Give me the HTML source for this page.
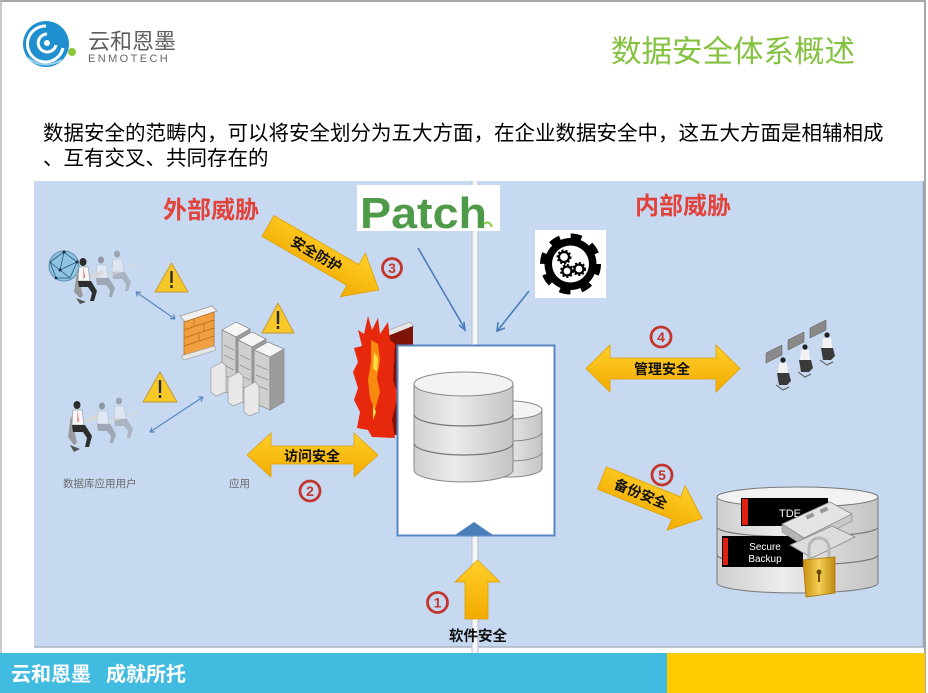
<!DOCTYPE html>
<html><head><meta charset="utf-8">
<style>
html,body{margin:0;padding:0;background:#fff;}
svg{display:block;}
.cjk{font-family:"Liberation Sans","Noto Sans CJK SC",sans-serif;}
</style></head>
<body>
<svg width="928" height="693" viewBox="0 0 928 693" xmlns="http://www.w3.org/2000/svg" class="cjk">
<defs>
<linearGradient id="yel" x1="0" y1="0" x2="0" y2="1">
<stop offset="0" stop-color="#ffd02a"/><stop offset="1" stop-color="#f2aa00"/>
</linearGradient>
<linearGradient id="cyl" x1="0" y1="0" x2="1" y2="0">
<stop offset="0" stop-color="#cfcfcf"/><stop offset="0.4" stop-color="#ececec"/><stop offset="1" stop-color="#c4c4c4"/>
</linearGradient>
<linearGradient id="gold" x1="0" y1="0" x2="1" y2="0">
<stop offset="0" stop-color="#c98f10"/><stop offset="0.5" stop-color="#f5cf55"/><stop offset="1" stop-color="#c08a10"/>
</linearGradient>
</defs>

<!-- page frame -->
<rect x="0" y="0" width="928" height="693" fill="#fff"/>
<line x1="0" y1="1" x2="926" y2="1" stroke="#a8a8a8" stroke-width="2"/>
<line x1="1" y1="0" x2="1" y2="693" stroke="#b8b8b8" stroke-width="1.5"/>
<line x1="925" y1="0" x2="925" y2="693" stroke="#a8a8a8" stroke-width="2"/>

<!-- logo -->
<circle cx="46" cy="44" r="23" fill="#1f8fd0"/>
<path d="M46 26 a18 18 0 1 0 17 22" fill="none" stroke="#fff" stroke-width="3"/>
<path d="M47 34 a9 9 0 1 0 9 11" fill="none" stroke="#fff" stroke-width="3"/>
<circle cx="47" cy="43" r="3" fill="#fff"/>
<path d="M28 58 q14 12 34 2" fill="none" stroke="#9fd2ee" stroke-width="2"/>
<circle cx="72" cy="52" r="4" fill="#8cc63f"/>
<text x="88" y="49" font-size="22" fill="#5f5f5f">云和恩墨</text>
<text x="88" y="62" font-size="11" fill="#666" letter-spacing="2.4" font-family="Liberation Sans, sans-serif">ENMOTECH</text>

<!-- title -->
<text x="611" y="62" font-size="30.5" fill="#84c13f">数据安全体系概述</text>

<!-- body text -->
<text x="43" y="140" font-size="20.5" fill="#000">数据安全的范畴内，可以将安全划分为五大方面，在企业数据安全中，这五大方面是相辅相成</text>
<text x="43" y="165" font-size="20.5" fill="#000">、互有交叉、共同存在的</text>

<!-- diagram background -->
<rect x="34" y="181" width="890" height="466" fill="#c6d9f0"/>
<line x1="34" y1="647" x2="924" y2="647" stroke="#a9b3bf" stroke-width="1.5"/>
<line x1="923.5" y1="181" x2="923.5" y2="647" stroke="#9aa4b0" stroke-width="1.5"/>
<!-- center vertical divider -->
<rect x="472" y="181" width="6" height="472" fill="#f4f6f8"/>
<line x1="472" y1="181" x2="472" y2="653" stroke="#b9c0c8" stroke-width="1"/>
<line x1="478" y1="181" x2="478" y2="653" stroke="#b9c0c8" stroke-width="1"/>

<!-- threats labels -->
<text x="163" y="218" font-size="24" font-weight="bold" fill="#e3423b">外部威胁</text>
<text x="635" y="214" font-size="24" font-weight="bold" fill="#e3423b">内部威胁</text>

<!-- Patch logo -->
<rect x="357" y="185" width="143" height="46" fill="#fff"/>
<text x="360" y="228" font-size="44" font-weight="bold" fill="#4e9a49" font-family="Liberation Sans, sans-serif" textLength="127" lengthAdjust="spacingAndGlyphs">Patch</text>
<path d="M484 224 q5 -4 8 3" fill="none" stroke="#8cc63f" stroke-width="2"/>

<!-- gear icon -->
<rect x="535" y="230" width="71" height="68" fill="#fff"/>
<circle cx="570.5" cy="264" r="27" fill="none" stroke="#000" stroke-width="7" stroke-dasharray="10.6 10.6"/>
<circle cx="570.5" cy="264" r="26" fill="#000"/>
<circle cx="570.5" cy="264" r="18.5" fill="#fff"/>
<circle cx="564" cy="257" r="5" fill="none" stroke="#000" stroke-width="2.2"/>
<circle cx="564" cy="257" r="6.5" fill="none" stroke="#000" stroke-width="2" stroke-dasharray="2 2"/>
<circle cx="567" cy="271" r="4.5" fill="none" stroke="#000" stroke-width="2.2"/>
<circle cx="567" cy="271" r="6" fill="none" stroke="#000" stroke-width="2" stroke-dasharray="2 2"/>
<circle cx="579" cy="269" r="4.5" fill="none" stroke="#000" stroke-width="2.2"/>
<circle cx="579" cy="269" r="6" fill="none" stroke="#000" stroke-width="2" stroke-dasharray="2 2"/>

<!-- blue connectors -->
<g stroke="#4a7ebb" stroke-width="1.6" fill="none">
<line x1="418" y1="248" x2="465" y2="329"/>
<path d="M459 325 L465 330 L464 322"/>
<line x1="529" y1="291" x2="498" y2="330"/>
<path d="M498 322 L497 331 L505 328"/>
</g>

<!-- left side: globe & users -->
<circle cx="64" cy="266" r="15" fill="#8fc4e0" stroke="#5a8fb0" stroke-width="1"/>
<g stroke="#2a4f7a" stroke-width="0.8" fill="none">
<path d="M50 262 L64 252 L77 262 L70 278 L56 278 Z"/>
<path d="M64 252 L60 270 L77 262 M50 262 L60 270 L70 278"/>
</g>
<g fill="#1b2b44"><circle cx="64" cy="252" r="1.5"/><circle cx="60" cy="270" r="1.5"/><circle cx="77" cy="262" r="1.5"/><circle cx="56" cy="278" r="1.3"/></g>

<!-- people group 1 (top-left) -->
<g opacity="0.45" transform="translate(108,250)">
<ellipse cx="9" cy="4" rx="3" ry="3.5" fill="#666"/>
<path d="M5 9 h9 l2 13 h-12 z" fill="#fafafa" stroke="#999" stroke-width=".5"/>
<path d="M4 22 h13 l6 10 l-3 9 h-3 l1-7 l-4-5 h-9 z" fill="#888"/>
<path d="M16 18 l12-6 l2 4 l-12 5z" fill="#ddd"/>
</g>
<g opacity="0.5" transform="translate(92,256)">
<ellipse cx="9" cy="4" rx="3" ry="3.5" fill="#555"/>
<path d="M5 9 h9 l2 13 h-12 z" fill="#fafafa" stroke="#999" stroke-width=".5"/>
<path d="M4 22 h13 l6 10 l-3 9 h-3 l1-7 l-4-5 h-9 z" fill="#777"/>
<path d="M16 18 l12-6 l2 4 l-12 5z" fill="#ddd"/>
</g>
<g transform="translate(74,258)">
<path d="M3 14 l-3 20 l6 6 l3-2 z" fill="#9a9a9a"/>
<ellipse cx="9" cy="4" rx="3.5" ry="4" fill="#2b2b2b"/>
<path d="M5 9 h9 l2 14 h-12 z" fill="#f7f7f7" stroke="#888" stroke-width=".5"/>
<path d="M9.5 9 l1.2 10 l-1 2 z" fill="#d22"/>
<path d="M4 23 h13 l6 10 l-3 10 h-4 l2-8 l-4-6 h-9 z" fill="#2e2e2e"/>
<path d="M16 18 l12-6 l2 4 l-12 5z" fill="#d8d8d8"/>
<path d="M2 40 l10 4 l-6 2 z" fill="#555"/>
</g>

<!-- people group 2 (bottom-left) -->
<g opacity="0.45" transform="translate(110,397)">
<ellipse cx="9" cy="4" rx="3" ry="3.5" fill="#666"/>
<path d="M5 9 h9 l2 13 h-12 z" fill="#fafafa" stroke="#999" stroke-width=".5"/>
<path d="M4 22 h13 l6 10 l-3 9 h-3 l1-7 l-4-5 h-9 z" fill="#888"/>
<path d="M16 18 l12-6 l2 4 l-12 5z" fill="#ddd"/>
</g>
<g opacity="0.5" transform="translate(93,402)">
<ellipse cx="9" cy="4" rx="3" ry="3.5" fill="#555"/>
<path d="M5 9 h9 l2 13 h-12 z" fill="#fafafa" stroke="#999" stroke-width=".5"/>
<path d="M4 22 h13 l6 10 l-3 9 h-3 l1-7 l-4-5 h-9 z" fill="#777"/>
<path d="M16 18 l12-6 l2 4 l-12 5z" fill="#ddd"/>
</g>
<g transform="translate(68,401)">
<path d="M3 14 l-3 22 l6 8 l3-2 z" fill="#9a9a9a"/>
<ellipse cx="9" cy="4" rx="3.5" ry="4" fill="#2b2b2b"/>
<path d="M5 9 h9 l2 15 h-12 z" fill="#f7f7f7" stroke="#888" stroke-width=".5"/>
<path d="M9.5 9 l1.2 11 l-1 2 z" fill="#d22"/>
<path d="M4 24 h13 l7 11 l-3 11 h-4 l2-9 l-4-6 h-10 z" fill="#2e2e2e"/>
<path d="M17 19 l12-6 l2 4 l-12 5z" fill="#d8d8d8"/>
<path d="M2 44 l10 4 l-6 3 z" fill="#555"/>
</g>

<!-- blue small connectors left -->
<g stroke="#5a86c0" stroke-width="1.2" fill="none">
<line x1="136" y1="292" x2="175" y2="319"/>
<path d="M136 292 l5 0.5 M136 292 l1.5 4.5"/>
<path d="M175 319 l-5 -0.5 M175 319 l-1.5 -4.5"/>
<line x1="150" y1="432" x2="203" y2="397"/>
<path d="M150 432 l2 -4.5 M150 432 l4.8 0"/>
<path d="M203 397 l-2 4.5 M203 397 l-4.8 0"/>
</g>

<!-- warning triangles -->
<g stroke="#c9a24a" stroke-width="1.2" stroke-linejoin="round">
<path d="M171.5 263 L188 292 L155 292 Z" fill="#f6c928"/>
<path d="M278 303 L294 333 L262 333 Z" fill="#f6c928"/>
<path d="M160 372 L177 402 L143 402 Z" fill="#f6c928"/>
</g>
<g fill="#2b2b2b">
<rect x="170.3" y="271" width="2.4" height="12"/><rect x="170.3" y="285" width="2.4" height="3"/>
<rect x="276.8" y="311" width="2.4" height="13"/><rect x="276.8" y="326" width="2.4" height="3"/>
<rect x="158.8" y="380" width="2.4" height="13"/><rect x="158.8" y="395" width="2.4" height="3"/>
</g>

<!-- small brick firewall -->
<path d="M180 316 L212 306 L217 311 L185 322 Z" fill="#f2f2f2" stroke="#999" stroke-width="0.8"/>
<path d="M184 322 L214 312 L214 346 L184 356 Z" fill="#f0a040" stroke="#b86a18" stroke-width="0.8"/>
<g stroke="#b86a18" stroke-width="0.7">
<line x1="184" y1="330" x2="214" y2="320"/><line x1="184" y1="338" x2="214" y2="328"/><line x1="184" y1="346" x2="214" y2="336"/>
<line x1="194" y1="319" x2="194" y2="327"/><line x1="204" y1="323" x2="204" y2="331"/><line x1="199" y1="333" x2="199" y2="341"/>
</g>
<path d="M181 356 L214 346 L216 350 L184 360 Z" fill="#e6e6e6" stroke="#999" stroke-width="0.6"/>

<!-- servers -->
<g stroke="#888" stroke-width="0.7">
<path d="M222 330 L236 322 L250 329 L236 337 Z" fill="#f5f5f5"/>
<path d="M222 330 L236 337 L236 397 L222 390 Z" fill="#cfcfcf"/>
<path d="M236 337 L250 329 L250 389 L236 397 Z" fill="#9c9c9c"/>
<path d="M238 340 L252 332 L266 339 L252 347 Z" fill="#f5f5f5"/>
<path d="M238 340 L252 347 L252 407 L238 400 Z" fill="#cfcfcf"/>
<path d="M252 347 L266 339 L266 399 L252 407 Z" fill="#9c9c9c"/>
<path d="M254 350 L268 342 L284 349 L270 357 Z" fill="#f5f5f5"/>
<path d="M254 350 L270 357 L270 410 L254 403 Z" fill="#cfcfcf"/>
<path d="M270 357 L284 349 L284 402 L270 410 Z" fill="#9c9c9c"/>
</g>
<g stroke="#777" stroke-width="0.6">
<line x1="224" y1="345" x2="234" y2="350"/><line x1="224" y1="355" x2="234" y2="360"/><line x1="224" y1="365" x2="234" y2="370"/><line x1="224" y1="375" x2="234" y2="380"/>
<line x1="240" y1="355" x2="250" y2="360"/><line x1="240" y1="365" x2="250" y2="370"/><line x1="240" y1="375" x2="250" y2="380"/><line x1="240" y1="385" x2="250" y2="390"/>
<line x1="256" y1="365" x2="268" y2="370"/><line x1="256" y1="375" x2="268" y2="380"/><line x1="256" y1="385" x2="268" y2="390"/>
</g>
<g fill="#e8e8e8" stroke="#999" stroke-width="0.7">
<path d="M211 368 L222 362 L226 366 L226 392 L216 396 L211 392 Z"/>
<path d="M228 378 L239 372 L243 376 L243 402 L233 406 L228 402 Z"/>
<path d="M244 388 L255 382 L259 386 L259 412 L249 416 L244 412 Z"/>
</g>

<text x="63" y="487" font-size="10.5" fill="#6a6a6a">数据库应用用户</text>
<text x="229" y="487" font-size="10.5" fill="#6a6a6a">应用</text>

<!-- 安全防护 arrow -->
<g transform="translate(268,226) rotate(30)">
<path d="M0 -12 L98 -12 L98 -25 L128 0 L98 25 L98 12 L0 12 Z" fill="url(#yel)" stroke="#e0a000" stroke-width="0.8"/>
<text x="56" y="5" font-size="14" font-weight="bold" fill="#111" text-anchor="middle">安全防护</text>
</g>

<!-- fire wall -->
<path d="M384 332 L410 322 L414 326 L388 336 Z" fill="#e6e6e6" stroke="#999" stroke-width="0.6"/>
<path d="M388 336 L413 326 L413 428 L388 438 Z" fill="#7c1208"/>
<g fill="#3a0502"><circle cx="393" cy="350" r="2"/><circle cx="402" cy="348" r="1.6"/><circle cx="393" cy="366" r="2"/><circle cx="404" cy="365" r="1.6"/><circle cx="393" cy="385" r="2"/><circle cx="404" cy="390" r="1.6"/><circle cx="394" cy="405" r="2"/><circle cx="404" cy="412" r="1.6"/></g>
<path d="M368 316 L372 330 L378 318 L380 334 L388 322 L390 340 L395 344 L393 380 L398 395 L392 420 L395 438 L372 437 L368 430 L357 428 L360 412 L354 400 L358 388 L353 372 L358 362 L354 348 L362 346 L358 330 L364 334 Z" fill="#e8280c"/>
<path d="M371 340 L378 344 L380 360 L377 378 L380 392 L375 410 L370 398 L368 380 L371 362 Z" fill="#f88a10"/>
<path d="M374 352 L378 358 L377 372 L373 368 Z M373 405 L376 412 L373 420 Z" fill="#fde040"/>

<!-- center DB box -->
<rect x="397.5" y="345.5" width="157" height="190" fill="#fff" stroke="#5a86c0" stroke-width="2"/>
<path d="M455 535 L474 522 L493 535 Z" fill="#4a7ebb"/>
<!-- small cylinder -->
<path d="M478 410 L478 468 A32 9 0 0 0 542 468 L542 410 Z" fill="url(#cyl)" stroke="#888" stroke-width="1"/>
<ellipse cx="510" cy="410" rx="32" ry="9" fill="#f3f3f3" stroke="#888" stroke-width="1"/>
<path d="M478 432 A32 9 0 0 0 542 432 M478 452 A32 9 0 0 0 542 452" fill="none" stroke="#888" stroke-width="1"/>
<!-- big cylinder -->
<path d="M414 384 L414 470 A49.5 12 0 0 0 513 470 L513 384 Z" fill="url(#cyl)" stroke="#888" stroke-width="1"/>
<ellipse cx="463.5" cy="384" rx="49.5" ry="12" fill="#f3f3f3" stroke="#888" stroke-width="1"/>
<path d="M414 414 A49.5 12 0 0 0 513 414 M414 443 A49.5 12 0 0 0 513 443" fill="none" stroke="#777" stroke-width="1.2"/>

<!-- 访问安全 double arrow -->
<path d="M247 455 L271 433 L271 446 L354 446 L354 433 L378 455 L354 477 L354 464 L271 464 L271 477 Z" fill="url(#yel)" stroke="#e0a000" stroke-width="0.8"/>
<text x="312" y="461" font-size="14" font-weight="bold" fill="#111" text-anchor="middle">访问安全</text>

<!-- 管理安全 double arrow -->
<path d="M586 368.5 L610 345 L610 358 L716 358 L716 345 L740 368.5 L716 392 L716 379 L610 379 L610 392 Z" fill="url(#yel)" stroke="#e0a000" stroke-width="0.8"/>
<text x="662" y="374" font-size="14" font-weight="bold" fill="#111" text-anchor="middle">管理安全</text>

<!-- right people -->
<g>
<g transform="translate(766,345)">
<path d="M0 8 L16 0 L16 10 L0 18 Z" fill="#8a8a8a" stroke="#555" stroke-width=".5"/>
<circle cx="17" cy="15" r="2.6" fill="#222"/><path d="M13 18 h8 l1 10 h-10 z" fill="#f2f2f2"/><path d="M11 28 h12 l2 8 l-4 4 h-8z" fill="#3a3a3a"/><path d="M10 40 l7 5 l6 -3" stroke="#555" fill="none"/>
</g>
<g transform="translate(788,332)">
<path d="M0 8 L16 0 L16 10 L0 18 Z" fill="#8a8a8a" stroke="#555" stroke-width=".5"/>
<circle cx="17" cy="15" r="2.6" fill="#222"/><path d="M13 18 h8 l1 10 h-10 z" fill="#f2f2f2"/><path d="M11 28 h12 l2 8 l-4 4 h-8z" fill="#3a3a3a"/><path d="M10 40 l7 5 l6 -3" stroke="#555" fill="none"/>
</g>
<g transform="translate(810,320)">
<path d="M0 8 L16 0 L16 10 L0 18 Z" fill="#8a8a8a" stroke="#555" stroke-width=".5"/>
<circle cx="17" cy="15" r="2.6" fill="#222"/><path d="M13 18 h8 l1 10 h-10 z" fill="#f2f2f2"/><path d="M11 28 h12 l2 8 l-4 4 h-8z" fill="#3a3a3a"/><path d="M10 40 l7 5 l6 -3" stroke="#555" fill="none"/>
</g>
</g>

<!-- 备份安全 arrow -->
<g transform="translate(602,478) rotate(22)">
<path d="M0 -12 L80 -12 L80 -24 L108 0 L80 24 L80 12 L0 12 Z" fill="url(#yel)" stroke="#e0a000" stroke-width="0.8"/>
<text x="42" y="5" font-size="14" font-weight="bold" fill="#111" text-anchor="middle">备份安全</text>
</g>

<!-- backup DB -->
<path d="M717 497 L717 583 A80.5 10 0 0 0 878 583 L878 497 Z" fill="url(#cyl)" stroke="#777" stroke-width="1"/>
<ellipse cx="797.5" cy="497" rx="80.5" ry="10" fill="#f2f2f2" stroke="#777" stroke-width="1"/>
<path d="M717 527 A80.5 10 0 0 0 878 527 M717 555 A80.5 10 0 0 0 878 555" fill="none" stroke="#777" stroke-width="1.2"/>
<rect x="741" y="498" width="87" height="28" fill="#000"/>
<rect x="742" y="499" width="6" height="26" fill="#e02010"/>
<text x="790" y="517" font-size="11" fill="#fff" text-anchor="middle" font-family="Liberation Sans, sans-serif">TDE</text>
<rect x="722" y="536" width="81" height="31" fill="#000"/>
<rect x="723" y="538" width="5" height="27" fill="#e02010"/>
<text x="765" y="550" font-size="10" fill="#fff" text-anchor="middle" font-family="Liberation Sans, sans-serif">Secure</text>
<text x="765" y="562" font-size="10" fill="#fff" text-anchor="middle" font-family="Liberation Sans, sans-serif">Backup</text>
<!-- tapes -->
<path d="M782 524 L830 502 L852 514 L804 538 Z" fill="#e4e4e4" stroke="#888" stroke-width="0.8"/>
<path d="M782 524 L804 538 L804 546 L782 532 Z" fill="#b5b5b5" stroke="#888" stroke-width="0.6"/>
<path d="M804 538 L852 514 L852 521 L804 546 Z" fill="#c8c8c8" stroke="#888" stroke-width="0.6"/>
<path d="M790 545 L832 526 L855 537 L812 558 Z" fill="#dcdcdc" stroke="#888" stroke-width="0.8"/>
<g fill="#999"><rect x="806" y="514" width="8" height="4" transform="rotate(-25 810 516)"/><rect x="820" y="508" width="8" height="4" transform="rotate(-25 824 510)"/></g>
<!-- lock -->
<path d="M809 560 L809 548 A10 10 0 0 1 829 548 L829 560" fill="none" stroke="#b8b8b8" stroke-width="3"/>
<path d="M803 560 L835 557 L835 593 L806 597 Z" fill="url(#gold)" stroke="#a87808" stroke-width="0.8"/>
<circle cx="819" cy="572" r="2.5" fill="#6a4a08"/><rect x="818" y="573" width="2" height="9" fill="#6a4a08"/>

<!-- 软件安全 up arrow -->
<path d="M465 619 L465 582 L455 582 L477.5 560 L500 582 L488 582 L488 619 Z" fill="url(#yel)" stroke="#e0a000" stroke-width="0.8"/>
<text x="478" y="641" font-size="14.5" font-weight="bold" fill="#111" text-anchor="middle">软件安全</text>

<!-- circled numbers -->
<g fill="none" stroke="#c4352c" stroke-width="2.8">
<circle cx="392" cy="268" r="9.5"/>
<circle cx="310" cy="491" r="10"/>
<circle cx="437.5" cy="602.5" r="10"/>
<circle cx="661" cy="337" r="10"/>
<circle cx="662" cy="475" r="10"/>
</g>
<g fill="#c4352c" font-size="14" font-weight="bold" text-anchor="middle" font-family="Liberation Sans, sans-serif">
<text x="392" y="273">3</text>
<text x="310" y="496">2</text>
<text x="437.5" y="607.5">1</text>
<text x="661" y="342">4</text>
<text x="662" y="480">5</text>
</g>

<!-- footer -->
<rect x="0" y="653" width="667" height="40" fill="#41bbe0"/>
<rect x="667" y="653" width="258" height="40" fill="#ffcc00"/>
<text x="11" y="681" font-size="20" font-weight="bold" fill="#fff">云和恩墨</text>
<text x="106" y="681" font-size="20" font-weight="bold" fill="#fff">成就所托</text>
</svg>
</body></html>
